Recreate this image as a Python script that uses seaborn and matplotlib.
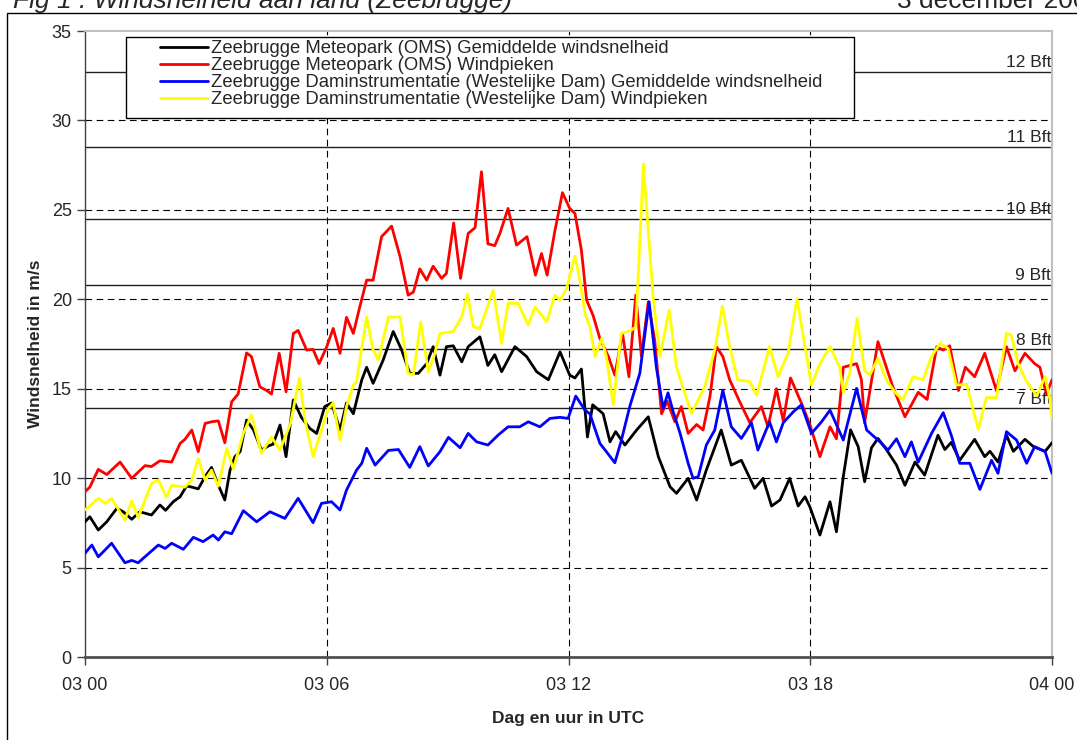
import numpy as np
import pandas as pd
import seaborn as sns
import matplotlib.pyplot as plt
from matplotlib.patches import Rectangle

# uren na 03 00 UTC en windsnelheid (m/s)
uur_oms_gem = [0.00, 0.12, 0.33, 0.54, 0.79, 0.95, 1.16, 1.36, 1.65, 1.86,
               2.00, 2.19, 2.36, 2.52, 2.65, 2.81, 2.98, 3.14, 3.31, 3.47,
               3.60, 3.72, 3.85, 4.01, 4.18, 4.38, 4.55, 4.67, 4.84, 4.99,
               5.17, 5.37, 5.58, 5.75, 5.95, 6.12, 6.33, 6.49, 6.66, 6.87,
               6.99, 7.15, 7.40, 7.65, 7.86, 8.06, 8.27, 8.48, 8.64, 8.81,
               8.97, 9.14, 9.35, 9.51, 9.80, 10.00, 10.17, 10.34, 10.67, 10.96,
               11.21, 11.50, 11.79, 12.03, 12.16, 12.32, 12.47, 12.60, 12.86, 13.03,
               13.17, 13.40, 13.69, 13.98, 14.23, 14.52, 14.68, 14.97, 15.18, 15.42,
               15.79, 16.04, 16.29, 16.62, 16.83, 17.04, 17.25, 17.49, 17.70, 17.87,
               17.99, 18.24, 18.49, 18.65, 18.82, 19.00, 19.19, 19.35, 19.52, 19.68,
               19.89, 20.14, 20.35, 20.60, 20.84, 21.17, 21.34, 21.50, 21.71, 22.08,
               22.33, 22.46, 22.66, 22.87, 23.04, 23.33, 23.54, 23.83, 24.00]
oms_gem = [7.56, 7.84, 7.10, 7.56, 8.31, 8.12, 7.70, 8.12, 7.94, 8.50,
           8.20, 8.68, 8.96, 9.56, 9.50, 9.40, 10.08, 10.60, 9.60, 8.78,
           10.45, 11.20, 11.48, 13.25, 12.70, 11.57, 11.80, 11.90, 12.97, 11.20,
           14.37, 13.40, 12.78, 12.50, 14.00, 14.20, 12.69, 14.20, 13.60, 15.50,
           16.20, 15.30, 16.60, 18.20, 17.16, 15.86, 15.86, 16.40, 17.35, 15.76,
           17.35, 17.40, 16.50, 17.35, 17.90, 16.30, 16.90, 15.95, 17.35, 16.80,
           15.95, 15.50, 17.06, 15.76, 15.60, 16.10, 12.30, 14.10, 13.60, 12.03,
           12.60, 11.85, 12.69, 13.43, 11.20, 9.52, 9.15, 9.99, 8.78, 10.45,
           12.69, 10.73, 11.00, 9.43, 9.99, 8.44, 8.78, 9.99, 8.44, 8.96,
           8.40, 6.82, 8.68, 7.00, 10.08, 12.70, 11.76, 9.80, 11.70, 12.22,
           11.60, 10.73, 9.60, 10.90, 10.17, 12.40, 11.60, 12.00, 11.00, 12.17,
           11.20, 11.50, 10.90, 12.40, 11.50, 12.17, 11.76, 11.50, 11.98]

uur_oms_piek = [0.00, 0.12, 0.33, 0.54, 0.87, 1.16, 1.49, 1.65, 1.86, 2.15,
                2.36, 2.48, 2.65, 2.81, 2.98, 3.14, 3.31, 3.47, 3.64, 3.80,
                4.01, 4.13, 4.34, 4.51, 4.63, 4.82, 4.99, 5.17, 5.29, 5.50,
                5.66, 5.81, 6.00, 6.16, 6.33, 6.49, 6.66, 6.82, 6.99, 7.15,
                7.36, 7.61, 7.82, 8.02, 8.15, 8.31, 8.48, 8.64, 8.85, 8.97,
                9.15, 9.32, 9.51, 9.68, 9.84, 10.00, 10.17, 10.30, 10.50, 10.71,
                10.97, 11.18, 11.33, 11.47, 11.66, 11.85, 12.03, 12.16, 12.32, 12.45,
                12.61, 12.78, 12.99, 13.15, 13.34, 13.50, 13.67, 13.81, 13.98, 14.14,
                14.31, 14.45, 14.64, 14.80, 14.97, 15.18, 15.34, 15.51, 15.67, 15.83,
                16.00, 16.25, 16.50, 16.79, 16.95, 17.16, 17.33, 17.51, 17.78, 17.99,
                18.24, 18.49, 18.65, 18.82, 19.15, 19.27, 19.35, 19.68, 20.05, 20.35,
                20.68, 20.90, 21.14, 21.30, 21.46, 21.68, 21.85, 22.08, 22.33, 22.62,
                22.87, 23.08, 23.33, 23.57, 23.70, 23.86, 24.00]
oms_piek = [9.24, 9.50, 10.49, 10.20, 10.90, 9.99, 10.70, 10.65, 10.97, 10.90,
            11.94, 12.17, 12.69, 11.48, 13.06, 13.15, 13.20, 11.98, 14.27, 14.70,
            17.00, 16.80, 15.10, 14.90, 14.70, 16.98, 14.83, 18.09, 18.26, 17.16,
            17.20, 16.40, 17.35, 18.37, 16.98, 18.99, 18.09, 19.58, 21.07, 21.07,
            23.50, 24.09, 22.38, 20.23, 20.40, 21.70, 21.07, 21.85, 21.17, 21.45,
            24.27, 21.17, 23.68, 24.00, 27.13, 23.10, 23.00, 23.70, 25.08, 23.03,
            23.50, 21.35, 22.56, 21.35, 23.80, 25.96, 25.08, 24.80, 22.75, 19.95,
            19.10, 17.80, 16.80, 15.76, 18.09, 15.67, 20.23, 16.80, 19.86, 17.70,
            13.60, 14.30, 13.15, 14.00, 12.50, 13.00, 12.69, 14.55, 17.35, 16.80,
            15.50, 14.27, 13.10, 14.00, 12.87, 15.00, 13.20, 15.60, 14.20, 13.00,
            11.20, 12.87, 12.20, 16.20, 16.40, 15.50, 13.10, 17.63, 15.10, 13.43,
            14.80, 14.40, 17.35, 17.16, 17.40, 14.90, 16.20, 15.67, 16.98, 14.90,
            17.35, 16.00, 16.98, 16.40, 16.20, 14.70, 15.50]

uur_dam_gem = [0.00, 0.17, 0.33, 0.66, 0.99, 1.16, 1.32, 1.82, 1.99, 2.15,
               2.44, 2.69, 2.93, 3.18, 3.31, 3.47, 3.64, 3.93, 4.26, 4.59,
               4.96, 5.29, 5.66, 5.87, 6.12, 6.33, 6.49, 6.74, 6.87, 6.99,
               7.20, 7.53, 7.78, 8.06, 8.31, 8.52, 8.81, 9.02, 9.31, 9.51,
               9.72, 10.00, 10.25, 10.50, 10.79, 11.00, 11.29, 11.54, 11.79, 11.99,
               12.18, 12.41, 12.53, 12.78, 12.94, 13.15, 13.31, 13.52, 13.77, 14.00,
               14.18, 14.35, 14.47, 14.60, 14.77, 14.97, 15.09, 15.22, 15.42, 15.63,
               15.83, 16.04, 16.29, 16.54, 16.70, 16.99, 17.16, 17.33, 17.58, 17.78,
               18.03, 18.28, 18.49, 18.82, 19.15, 19.40, 19.73, 19.93, 20.14, 20.35,
               20.51, 20.68, 21.01, 21.30, 21.50, 21.71, 21.96, 22.21, 22.50, 22.66,
               22.87, 23.12, 23.37, 23.57, 23.83, 24.00]
dam_gem = [5.80, 6.26, 5.60, 6.36, 5.27, 5.40, 5.27, 6.26, 6.07, 6.36,
           6.02, 6.69, 6.45, 6.82, 6.54, 7.00, 6.89, 8.18, 7.56, 8.12,
           7.75, 8.87, 7.51, 8.59, 8.68, 8.22, 9.33, 10.45, 10.83, 11.67,
           10.73, 11.55, 11.60, 10.60, 11.76, 10.68, 11.48, 12.28, 11.70, 12.50,
           12.03, 11.85, 12.40, 12.87, 12.87, 13.15, 12.87, 13.34, 13.40, 13.34,
           14.59, 13.80, 13.60, 11.94, 11.48, 10.86, 12.10, 14.00, 15.86, 19.86,
           16.20, 13.90, 14.77, 13.70, 12.50, 10.83, 9.99, 10.08, 11.85, 12.69,
           14.92, 12.87, 12.22, 13.10, 11.57, 13.15, 12.03, 13.10, 13.71, 14.10,
           12.50, 13.15, 13.80, 12.13, 15.02, 12.69, 12.03, 11.57, 12.20, 11.20,
           12.03, 10.90, 12.50, 13.66, 12.40, 10.83, 10.83, 9.37, 11.00, 10.27,
           12.60, 12.13, 10.83, 11.76, 11.48, 10.27]

uur_dam_piek = [0.00, 0.33, 0.50, 0.66, 0.99, 1.16, 1.32, 1.65, 1.82, 2.02,
                2.15, 2.48, 2.65, 2.81, 2.98, 3.14, 3.31, 3.52, 3.68, 3.93,
                4.13, 4.38, 4.63, 4.84, 5.10, 5.32, 5.46, 5.66, 5.87, 6.04,
                6.16, 6.33, 6.49, 6.66, 6.74, 6.99, 7.15, 7.28, 7.53, 7.69,
                7.82, 8.02, 8.15, 8.33, 8.52, 8.66, 8.81, 9.14, 9.35, 9.49,
                9.64, 9.80, 9.96, 10.13, 10.34, 10.50, 10.75, 11.00, 11.17, 11.46,
                11.66, 11.79, 11.95, 12.16, 12.28, 12.41, 12.53, 12.66, 12.82, 12.94,
                13.11, 13.31, 13.55, 13.67, 13.86, 14.10, 14.27, 14.50, 14.68, 15.05,
                15.38, 15.63, 15.82, 16.00, 16.20, 16.50, 16.67, 16.99, 17.20, 17.45,
                17.67, 17.87, 18.03, 18.24, 18.49, 18.73, 18.82, 18.98, 19.16, 19.35,
                19.48, 19.68, 19.89, 20.10, 20.30, 20.55, 20.80, 21.01, 21.22, 21.42,
                21.63, 21.88, 22.17, 22.37, 22.62, 22.87, 22.99, 23.16, 23.37, 23.62,
                23.83, 23.95, 24.00]
dam_piek = [8.22, 8.87, 8.59, 8.87, 7.66, 8.73, 7.80, 9.70, 9.90, 8.94,
            9.60, 9.50, 9.90, 11.10, 9.90, 10.45, 9.55, 11.67, 10.50, 12.50,
            13.53, 11.39, 12.30, 11.57, 13.06, 15.58, 13.25, 11.20, 12.69, 13.90,
            14.20, 12.13, 14.00, 15.20, 15.40, 19.02, 17.16, 16.60, 19.02, 19.00,
            19.02, 15.86, 15.77, 18.74, 15.95, 16.80, 18.09, 18.20, 19.02, 20.29,
            18.46, 18.37, 19.40, 20.51, 17.53, 19.77, 19.77, 18.56, 19.58, 18.74,
            20.23, 19.95, 20.60, 22.41, 21.10, 19.21, 18.46, 16.80, 17.80, 16.80,
            14.09, 18.09, 18.26, 18.46, 27.56, 20.14, 16.80, 19.40, 16.20, 13.62,
            15.10, 17.16, 19.62, 17.35, 15.50, 15.40, 14.64, 17.35, 15.67, 16.98,
            20.04, 17.35, 15.20, 16.40, 17.35, 16.20, 14.80, 15.86, 18.93, 16.00,
            15.77, 16.70, 15.50, 14.80, 14.37, 15.67, 15.50, 16.80, 17.53, 17.25,
            15.20, 15.25, 12.73, 14.50, 14.50, 18.09, 18.00, 16.40, 15.40, 14.60,
            15.67, 14.40, 13.34]

reeksen = ['Zeebrugge Meteopark (OMS) Gemiddelde windsnelheid',
           'Zeebrugge Meteopark (OMS) Windpieken',
           'Zeebrugge Daminstrumentatie (Westelijke Dam) Gemiddelde windsnelheid',
           'Zeebrugge Daminstrumentatie (Westelijke Dam) Windpieken']
kleuren = ['#000000', '#ff0000', '#0000ff', '#ffff00']

beaufort = [13.9, 17.2, 20.8, 24.5, 28.5, 32.7]
beaufort_labels = ['7 Bft', '8 Bft', '9 Bft', '10 Bft', '11 Bft', '12 Bft']

uur_ticks = [0, 6, 12, 18, 24]
uur_labels = ['03 00', '03 06', '03 12', '03 18', '04 00']

frames = []
for naam, uren, waarden in zip(reeksen,
                               [uur_oms_gem, uur_oms_piek, uur_dam_gem, uur_dam_piek],
                               [oms_gem, oms_piek, dam_gem, dam_piek]):
    frames.append(pd.DataFrame({'uur': uren, 'snelheid': waarden, 'reeks': naam}))
df = pd.concat(frames, ignore_index=True)

sns.set_theme(style='white')
plt.rcParams['font.family'] = ['Liberation Sans', 'DejaVu Sans']

fig = plt.figure(figsize=(10.77, 7.4), dpi=100)
ax = fig.add_axes([85 / 1077, 1 - 657 / 740, 967 / 1077, 626 / 740])

# rasterlijnen en Beaufort-grenzen
for y in range(5, 35, 5):
    ax.axhline(y, color='black', lw=0.8, ls=(0, (6, 4)), zorder=1)
for x in uur_ticks[1:-1]:
    ax.axvline(x, color='black', lw=0.8, ls=(0, (6, 4)), zorder=1)
for v, lab in zip(beaufort, beaufort_labels):
    ax.axhline(v, color='#202020', lw=1, zorder=1)
    ax.text(23.98, v + 0.1, lab, ha='right', va='bottom', fontsize=12.5, zorder=2)

sns.lineplot(data=df, x='uur', y='snelheid', hue='reeks', hue_order=reeksen,
             palette=kleuren, sort=False, estimator=None, lw=2, ax=ax, zorder=3)
for ln in ax.get_lines():
    ln.set_solid_joinstyle('round')

ax.set_xlim(0, 24)
ax.set_ylim(0, 35)
ax.set_xticks(uur_ticks)
ax.set_xticklabels(uur_labels)
ax.set_yticks(range(0, 36, 5))
ax.tick_params(axis='both', direction='out', length=5.5, width=1, color='#404040',
               labelsize=13, left=True, bottom=True)
ax.tick_params(axis='x', pad=9)
ax.tick_params(axis='y', pad=4)

for s in ['top', 'right']:
    ax.spines[s].set_color('#c0c0c0')
    ax.spines[s].set_linewidth(1.5)
ax.spines['left'].set_color('#404040')
ax.spines['left'].set_linewidth(1)
ax.spines['bottom'].set_color('#505050')
ax.spines['bottom'].set_linewidth(2)

ax.set_xlabel('Dag en uur in UTC', fontsize=12.5, fontweight='bold')
ax.set_ylabel('Windsnelheid in m/s', fontsize=12.5, fontweight='bold')
ax.xaxis.set_label_coords(0.5, -0.086)
ax.yaxis.set_label_coords(-0.043, 0.5)

# legenda met eigen kader
ax.add_patch(Rectangle((0.0424, 0.861), 0.7528, 0.129, transform=ax.transAxes,
                       facecolor='white', edgecolor='black', lw=1, zorder=4))
handles, labels = ax.get_legend_handles_labels()
leg = ax.legend(handles, labels, loc='upper left', bbox_to_anchor=(0.0776, 0.985),
                frameon=False, fontsize=13.3, handlelength=2.6, handletextpad=0.15,
                labelspacing=0.0, borderpad=0, borderaxespad=0)
leg.set_zorder(5)

# titel (deels buiten beeld) en buitenkader
fig.text(13 / 1077, 1 - 8 / 740, 'Fig 1 : Windsnelheid aan land (Zeebrugge)',
         fontsize=19, style='italic', va='baseline')
fig.text(897 / 1077, 1 - 8 / 740, '3 december 2003', fontsize=19, va='baseline')
fig.add_artist(Rectangle((7 / 1077, -0.05), 1.1, 1 - 13 / 740 + 0.05,
                         transform=fig.transFigure, fill=False, edgecolor='black', lw=1))

fig.savefig('out.png', dpi=100)
